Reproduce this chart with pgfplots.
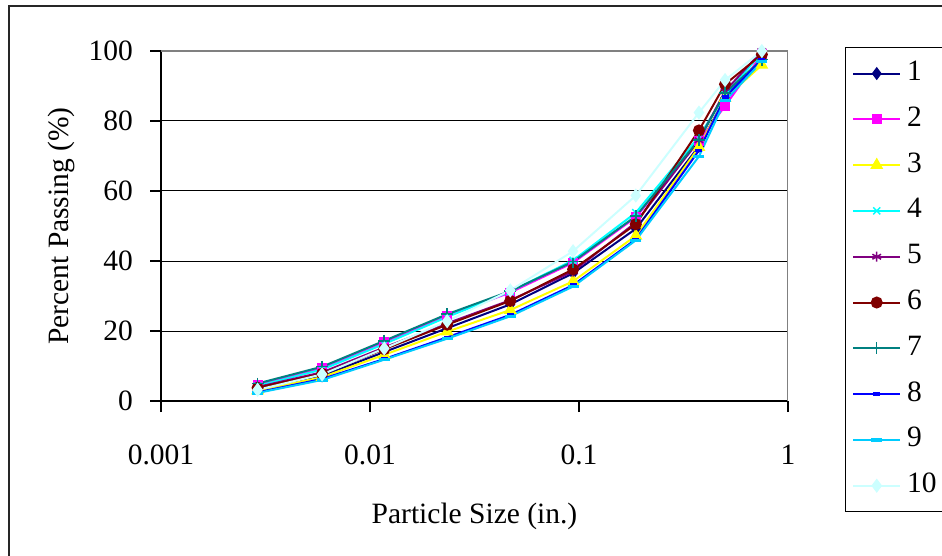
\documentclass[border=0pt]{standalone}
\usepackage{fontspec}
\setmainfont{Liberation Serif}
\usepackage{pgfplots}
\usepackage{pgfplotstable}
\pgfplotsset{compat=1.18}

\definecolor{c1}{HTML}{000080}
\definecolor{c2}{HTML}{FF00FF}
\definecolor{c3}{HTML}{FFFF00}
\definecolor{c4}{HTML}{00FFFF}
\definecolor{c5}{HTML}{800080}
\definecolor{c6}{HTML}{800000}
\definecolor{c7}{HTML}{008080}
\definecolor{c8}{HTML}{0000FF}
\definecolor{c9}{HTML}{00CCFF}
\definecolor{c10}{HTML}{CCFFFF}

% sieve size (in.) and percent passing for the ten samples
\pgfplotstableread{
d       s1    s2    s3    s4    s5    s6    s7    s8    s9    s10
0.0029  3.5   4.6   3.0   4.3   4.0   3.8   5.0   2.5   2.3   3.2
0.0059  7.2   9.3   6.8   9.0   8.2   7.8   9.8   6.3   6.0   7.6
0.0117  14.0  16.9  13.2  16.3  15.3  14.8  17.2  12.0  11.8  15.0
0.0234  20.8  24.3  19.8  24.0  22.2  21.8  24.8  18.2  17.8  22.8
0.0469  27.6  31.0  26.0  31.3  28.8  28.6  31.4  24.6  24.2  31.6
0.0937  36.5  39.5  34.2  40.2  37.0  37.6  39.8  33.1  32.7  42.8
0.187   49.2  52.5  47.2  53.8  51.0  50.5  52.8  46.2  45.9  58.7
0.375   72.8  74.2  72.5  75.5  74.5  77.3  74.6  71.6  69.9  82.4
0.5     86.5  84.3  86.5  87.5  88.5  90.5  88.0  86.8  85.8  91.7
0.75    98.0  99.0  96.0  99.5  100   99.0  97.5  97.5  97.0  100
}\grad

\begin{document}
\fontsize{29.5}{35}\selectfont
\begin{tikzpicture}[x=1pt,y=1pt]
\useasboundingbox (0,0) rectangle (942,555);
\draw[line width=1.5pt, black!85] (9,-5) -- (9,549) -- (950,549);
\begin{axis}[
    at={(161pt,154pt)}, anchor=south west,
    scale only axis, width=627pt, height=350pt,
    xmode=log, xmin=0.001, xmax=1,
    ymin=0, ymax=100,
    xtick={0.001,0.01,0.1,1},
    xticklabels={0.001,0.01,0.1,1},
    xminorticks=false,
    ytick={0,20,40,60,80,100},
    ymajorgrids,
    grid style={black, line width=1pt},
    axis x line*=bottom, axis y line*=left,
    axis line style={black, line width=1.2pt, -},
    tick style={black, line width=1.2pt},
    tick align=outside, major tick length=11pt,
    /pgf/number format/assume math mode=true,
    ticklabel style={font=\fontsize{29.5}{35}\selectfont},
    yticklabel style={anchor=east, inner sep=0pt, xshift=-17pt},
    xticklabel style={anchor=center, inner sep=0pt, yshift=-43pt},
    xlabel={Particle Size (in.)},
    ylabel={Percent Passing (\%)},
    every axis x label/.style={at={(axis description cs:0.5,-0.33)}, anchor=center},
    every axis y label/.style={at={(axis description cs:-0.158,0.5)}, anchor=center, rotate=90},
    legend style={at={(axis description cs:1.0905,1.0114)}, anchor=north west,
        draw=black, line width=1pt, inner xsep=7pt, inner ysep=11pt,
        row sep=15.8pt, column sep=4pt,
        font=\fontsize{29.5}{35}\selectfont,
        nodes={text height=20pt, text depth=6pt, inner sep=2pt}},
    legend cell align=left,
    legend image code/.code={\draw[mark repeat=2,mark phase=2,#1] plot coordinates {(0pt,0pt) (23.5pt,0pt) (47pt,0pt)};},
    every axis plot/.append style={line width=2pt, mark options={solid}},
]
\draw[gray, line width=2pt] (rel axis cs:0,1) -- (rel axis cs:1,1) -- (rel axis cs:1,0);
\addplot[c1, mark=diamond*, mark size=5pt] table[x=d, y=s1]{\grad};
\addplot[c2, mark=square*, mark size=4pt] table[x=d, y=s2]{\grad};
\addplot[c3, mark=triangle*, mark size=5.5pt] table[x=d, y=s3]{\grad};
\addplot[c4, mark=x, mark size=5pt, mark options={line width=1.5pt}] table[x=d, y=s4]{\grad};
\addplot[c5, mark=asterisk, mark size=5pt, mark options={line width=1.5pt}] table[x=d, y=s5]{\grad};
\addplot[c6, mark=*, mark size=5pt] table[x=d, y=s6]{\grad};
\addplot[c7, mark=+, mark size=6pt, mark options={line width=1.5pt}] table[x=d, y=s7]{\grad};
\addplot[c8, mark=-, mark size=3.5pt, mark options={line width=3.5pt}] table[x=d, y=s8]{\grad};
\addplot[c9, mark=-, mark size=5.5pt, mark options={line width=3.5pt}] table[x=d, y=s9]{\grad};
\addplot[c10, mark=diamond*, mark size=5.5pt] table[x=d, y=s10]{\grad};
\legend{1,2,3,4,5,6,7,8,9,10}
\end{axis}
\end{tikzpicture}
\end{document}
